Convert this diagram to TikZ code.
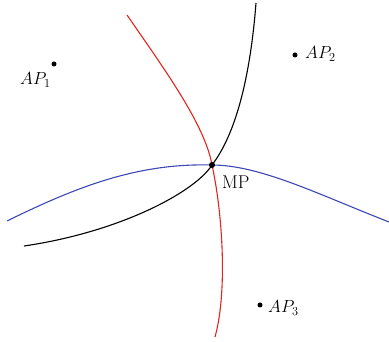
\documentclass[tikz,border=0pt]{standalone}
\usepackage{fix-cm}
\definecolor{cred}{RGB}{226,38,30}
\definecolor{cblue}{RGB}{62,72,178}
\tikzset{
  curve/.style={line width=1.1pt, line join=round},
  dotmark/.style={circle, fill=black, inner sep=0pt, minimum size=5pt},
  lbl/.style={anchor=base west, inner sep=0pt, font=\fontsize{17.5}{20}\selectfont}
}
\begin{document}
\begin{tikzpicture}[x=1pt,y=-1pt]
\useasboundingbox (0,0) rectangle (389,342);
\coordinate (mp) at (212,165);
\coordinate (b0) at (7,221);
\coordinate (b1) at (389,222);
\coordinate (k0) at (256,3);
\coordinate (k1) at (24,246);
\coordinate (r0) at (127,15);
\coordinate (r1) at (215,337);
% curves
\draw[curve, cblue] (b0) .. controls (80,185) and (140,163) .. (mp)
                         .. controls (260,165) and (320,195) .. (b1);
\draw[curve, black] (k0) .. controls (250,80) and (235,135) .. (mp)
                         .. controls (195,192) and (120,232) .. (k1);
\draw[curve, cred] (r0) .. controls (165,70) and (205,125) .. (mp)
                        .. controls (222,210) and (228,290) .. (r1);
% points
\node[dotmark, minimum size=6pt] (mpdot) at (mp) {};
\node[dotmark] (ap1) at (54,64) {};
\node[dotmark] (ap2) at (295,55) {};
\node[dotmark] (ap3) at (260,305) {};
% labels
\node[lbl] (ap1l) at (20,85) {$AP_1$};
\node[lbl] (ap2l) at (305,59) {$AP_2$};
\node[lbl] (ap3l) at (268,313) {$AP_3$};
\node[lbl, font=\fontsize{18.5}{20}\selectfont] (mpl) at (222,189) {MP};
\end{tikzpicture}
\end{document}
